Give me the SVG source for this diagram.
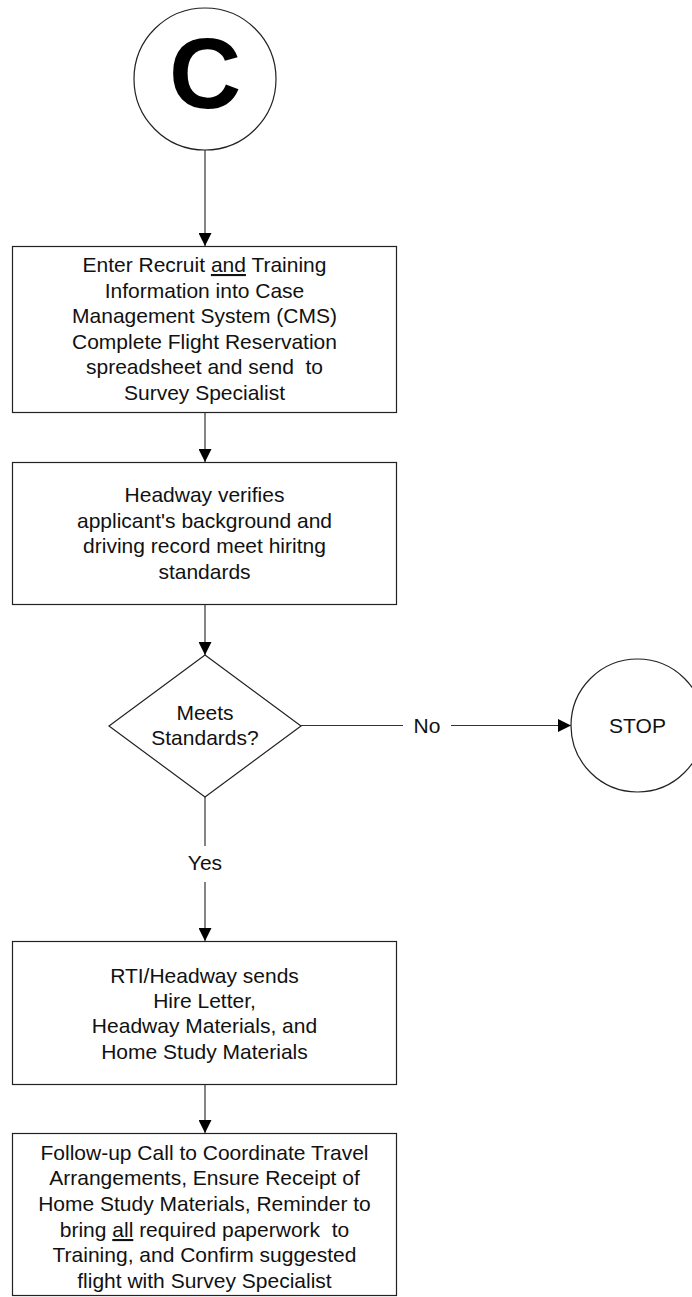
<svg xmlns="http://www.w3.org/2000/svg" width="692" height="1297" viewBox="0 0 692 1297">
<style>
.shape{fill:#fff;stroke:#222;stroke-width:1.2}
.conn{fill:none;stroke:#333;stroke-width:1.2}
.t{font-family:"Liberation Sans",Arial,sans-serif;font-size:21px;fill:#111;text-anchor:middle;white-space:pre}
.big{font-family:"Liberation Sans",Arial,sans-serif;font-size:100px;font-weight:bold;fill:#000;text-anchor:middle}
.u{text-decoration:underline}
</style>
<defs>
<marker id="arr" markerUnits="userSpaceOnUse" markerWidth="13" markerHeight="13" refX="13" refY="6.5" orient="auto" viewBox="0 0 13 13">
<path d="M0,0 L13,6.5 L0,13 z" fill="#000"/>
</marker>
</defs>
<rect width="692" height="1297" fill="#fff"/>
<g id="connectors">
<line class="conn" x1="205" y1="150" x2="205" y2="246" marker-end="url(#arr)"/>
<line class="conn" x1="205" y1="413" x2="205" y2="462" marker-end="url(#arr)"/>
<line class="conn" x1="205" y1="605" x2="205" y2="655" marker-end="url(#arr)"/>
<line class="conn" x1="301" y1="725.5" x2="403" y2="725.5"/>
<line class="conn" x1="451" y1="725.5" x2="571" y2="725.5" marker-end="url(#arr)"/>
<text class="t" x="427" y="733">No</text>
<line class="conn" x1="205" y1="797" x2="205" y2="846"/>
<line class="conn" x1="205" y1="882" x2="205" y2="941" marker-end="url(#arr)"/>
<text class="t" x="205" y="870">Yes</text>
<line class="conn" x1="205" y1="1085" x2="205" y2="1133" marker-end="url(#arr)"/>
</g>
<g id="node-c">
<circle class="shape" cx="205" cy="79" r="71"/>
<text class="big" x="205" y="108">C</text>
</g>
<g id="node-enter">
<rect class="shape" x="12.5" y="246.5" width="384" height="166"/>
<text class="t" x="204.5" y="272">Enter Recruit <tspan class="u">and</tspan> Training</text>
<text class="t" x="204.5" y="298">Information into Case</text>
<text class="t" x="204.5" y="323">Management System (CMS)</text>
<text class="t" x="204.5" y="349">Complete Flight Reservation</text>
<text class="t" x="204.5" y="374">spreadsheet and send  to</text>
<text class="t" x="204.5" y="400">Survey Specialist</text>
</g>
<g id="node-verify">
<rect class="shape" x="12.5" y="462.5" width="384" height="142"/>
<text class="t" x="204.5" y="502">Headway verifies</text>
<text class="t" x="204.5" y="528">applicant's background and</text>
<text class="t" x="204.5" y="553">driving record meet hiritng</text>
<text class="t" x="204.5" y="579">standards</text>
</g>
<g id="node-decision">
<polygon class="shape" points="205,655 301,726 205,797 109,726"/>
<text class="t" x="205" y="720">Meets</text>
<text class="t" x="205" y="745">Standards?</text>
</g>
<g id="node-stop">
<circle class="shape" cx="637.5" cy="725.5" r="66.5"/>
<text class="t" x="637.5" y="733">STOP</text>
</g>
<g id="node-hire">
<rect class="shape" x="12.5" y="941.5" width="384" height="143"/>
<text class="t" x="204.5" y="983">RTI/Headway sends</text>
<text class="t" x="204.5" y="1008">Hire Letter,</text>
<text class="t" x="204.5" y="1033">Headway Materials, and</text>
<text class="t" x="204.5" y="1059">Home Study Materials</text>
</g>
<g id="node-followup">
<rect class="shape" x="12.5" y="1133.5" width="384" height="162"/>
<text class="t" x="204.5" y="1160">Follow-up Call to Coordinate Travel</text>
<text class="t" x="204.5" y="1185">Arrangements, Ensure Receipt of</text>
<text class="t" x="204.5" y="1211">Home Study Materials, Reminder to</text>
<text class="t" x="204.5" y="1237">bring <tspan class="u">all</tspan> required paperwork  to</text>
<text class="t" x="204.5" y="1262">Training, and Confirm suggested</text>
<text class="t" x="204.5" y="1288">flight with Survey Specialist</text>
</g>
</svg>
